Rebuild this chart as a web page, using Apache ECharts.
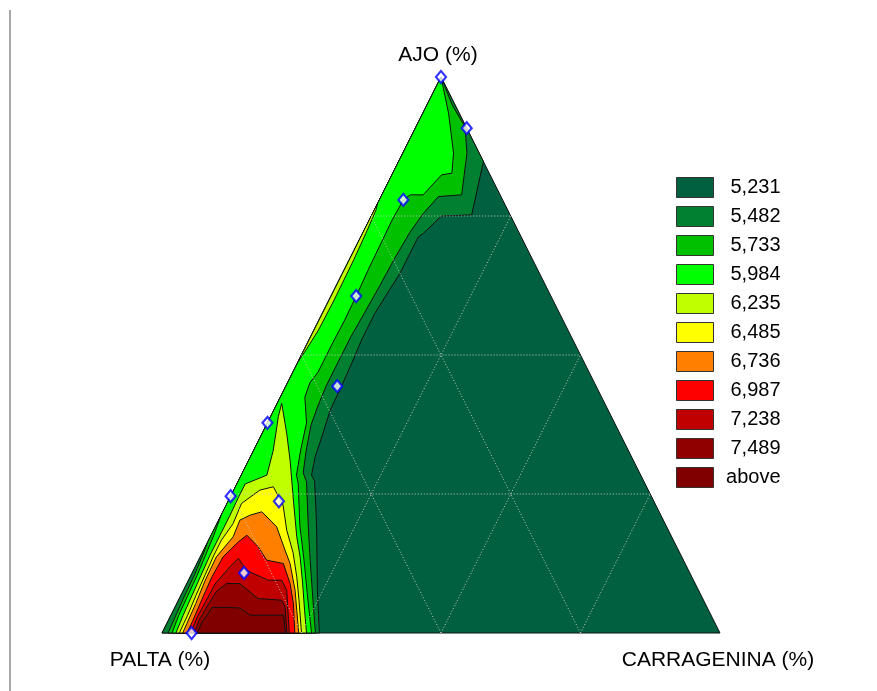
<!DOCTYPE html>
<html><head><meta charset="utf-8">
<script src="https://cdn.jsdelivr.net/npm/echarts@6/dist/echarts.min.js"></script>
<style>html,body{margin:0;padding:0;background:#fff}#chart{width:877px;height:691px}</style>
</head><body><div id="chart"></div>
<script>
// Ternary composition points are [CARRAGENINA %, AJO %]; PALTA % = 100 - both.
const levelLabels = ['5,231','5,482','5,733','5,984','6,235','6,485','6,736','6,987','7,238','7,489','above'];
const levelColors = ['#006040','#008030','#00c000','#00ff00','#c0ff00','#ffff00','#ff8000','#ff0000','#c00000','#900000','#800000'];

const band0 = [[[0,0],[0,100],[100,0]]];
const band1 = [[[0,0],[0,100],[15.2,84.8],[17.9,75.2],[12.6,75.0],[10.9,71.9],[10.3,71.2],[10.3,64.7],[9.4,57.6],[9.4,52.7],[9.7,49.1],[10.0,43.7],[10.1,40.1],[11.0,35.3],[11.6,31.7],[12.6,28.4],[13.7,27.3],[18.0,19.4],[24.0,7.7],[28.2,0]]];
const band2 = [[[0,16.5],[0,100],[4.5,95.0],[8.8,91.0],[11.5,86.3],[14.3,78.8],[10.3,78.5],[9.1,75.5],[8.4,72.1],[8.0,67.4],[7.8,62.6],[7.5,57.7],[7.2,53.1],[7.2,49.5],[7.2,44.4],[7.5,41.0],[8.0,37.4],[9.4,32.9],[10.9,28.8],[12.3,27.2],[16.5,19.4],[20.0,13.1],[24.1,5.9],[27.5,0],[1.1,0],[0.9,3.2],[0.7,6.8],[0.6,10.4],[0.3,14.0]]];
const band3 = [[[0,21.2],[0,100],[4.6,93.5],[9.1,86.3],[10.6,82.7],[8.9,82.4],[7.4,78.8],[5.1,78.8],[4.3,77.9],[4.1,74.3],[4.2,69.8],[4.3,65.3],[4.5,60.8],[4.6,56.3],[4.5,52.3],[4.5,49.5],[4.5,46.9],[4.0,45.0],[4.4,42.4],[7.0,37.8],[8.4,32.9],[9.9,28.4],[10.9,27.0],[15.0,19.4],[18.9,13.1],[23.2,5.9],[26.8,0],[1.8,0],[1.4,3.2],[1.25,6.8],[1.1,10.4],[0.8,14.0],[0.5,17.6]]];
const band4 = [
  [[0,48.9],[0,77.3],[0.3,76.1],[0.55,72.5],[0.8,67.1],[0.9,59.9],[0.8,54.5],[0.35,50.9]],
  [[0.8,41.3],[4.4,35.9],[7.4,31.1],[11.6,23.9],[15.5,17.3],[17.9,13.7],[20.7,9.0],[23.5,4.1],[25.9,0],[2.5,0],[2.2,3.2],[2.0,6.8],[1.8,10.4],[1.6,14.0],[1.6,17.6],[1.6,21.2],[1.5,24.6],[1.5,26.8],[4.6,28.4],[3.5,32.9],[1.4,38.9]]
];
const band5 = [[[6.8,26.3],[10.2,23.0],[13.1,18.5],[16.3,14.4],[19.1,10.1],[21.6,5.9],[25.0,0],[3.1,0],[3.0,3.2],[2.7,6.8],[2.5,10.4],[2.3,14.0],[2.3,16.7],[2.9,19.7],[2.6,23.3],[4.7,25.7]]];
const band6 = [[[5.2,21.2],[7.0,21.8],[11.0,19.1],[14.6,14.9],[16.7,12.5],[20.0,7.7],[22.1,4.1],[24.5,0],[3.7,0],[3.4,5.3],[3.0,9.5],[2.9,13.7],[4.1,17.3],[3.8,20.3]]];
const band7 = [[[5.5,16.4],[6.4,17.6],[9.5,15.5],[12.2,13.1],[15.5,12.5],[18.5,8.9],[20.9,5.3],[23.8,0],[4.5,0],[4.4,2.3],[4.1,6.5],[3.9,10.1],[4.1,13.7]]];
const band8 = [[[7.0,13.4],[9.5,11.3],[11.0,10.7],[14.3,9.5],[16.7,9.5],[18.5,7.7],[22.8,0],[5.2,0],[4.9,2.7],[5.0,5.8],[5.1,8.8],[6.2,11.9]]];
const band9 = [[[7.1,8.9],[9.5,8.9],[14.1,6.2],[18.5,5.9],[19.7,4.7],[22.4,0],[5.8,0],[5.5,2.3],[5.7,5.0],[6.0,7.4]]];
const band10 = [[[6.7,4.6],[9.4,4.6],[11.7,4.5],[14.2,3.2],[20.2,3.2],[22.1,0],[6.3,0],[6.2,2.0],[6.5,3.4]]];
const designPoints = [[0,100],[9.2,90.8],[4.3,77.9],[4.5,60.6],[9.2,44.4],[0,37.8],[0,24.6],[9.1,23.7],[9.3,10.8],[5.3,0]];
const gridLevels = [25,50,75];
const axisTitles = ['AJO (%)','PALTA (%)','CARRAGENINA (%)'];

const bands = [band0,band1,band2,band3,band4,band5,band6,band7,band8,band9,band10];
function toXY(p){ return [p[0] + p[1]/2, p[1]]; }

const FONT = '"Liberation Sans", Arial, sans-serif';
const chart = echarts.init(document.getElementById('chart'), null, {renderer:'canvas'});

const series = bands.map((polys, i) => ({
  type:'custom', name: levelLabels[i], coordinateSystem:'cartesian2d', silent:true,
  itemStyle:{color: levelColors[i]}, z: 2,
  data: polys.map((p, j) => [j, 0]),
  renderItem: (params, api) => {
    const poly = polys[params.dataIndex];
    return {type:'polygon', shape:{points: poly.map(p => api.coord(toXY(p)))},
            style:{fill: levelColors[i], stroke:'#111', lineWidth:1}};
  }
}));

series.push({
  type:'custom', coordinateSystem:'cartesian2d', silent:true, z:3,
  data: gridLevels.map(v => [v, 0]),
  renderItem: (params, api) => {
    const k = gridLevels[params.dataIndex];
    const segs = [[[0,k],[100-k,k]], [[k,0],[k,100-k]], [[100-k,0],[0,100-k]]];
    return {type:'group', children: segs.map(s => {
      const a = api.coord(toXY(s[0])), b = api.coord(toXY(s[1]));
      return {type:'line', shape:{x1:a[0], y1:a[1], x2:b[0], y2:b[1]},
              style:{stroke:'#c8c8c8', lineDash:[1,2], lineWidth:1}};
    })};
  }
});

series.push({
  type:'scatter', silent:true, z:5,
  data: designPoints.map(toXY),
  symbol:'diamond', symbolSize:[10,12],
  itemStyle:{color:'#ffffff', borderColor:'#0000ff', borderWidth:2.2}
});

chart.setOption({
  animation:false,
  backgroundColor:'#ffffff',
  grid:{left:162, top:77, width:558, height:556},
  xAxis:{type:'value', min:0, max:100, show:false},
  yAxis:{type:'value', min:0, max:100, show:false},
  legend:{
    data: levelLabels, orient:'vertical', left:676, top:177, padding:0,
    itemWidth:37, itemHeight:20, itemGap:8, icon:'rect', selectedMode:false,
    itemStyle:{borderColor:'#333', borderWidth:1},
    formatter: n => '{r|' + n + '}',
    textStyle:{color:'#000', fontFamily:FONT, fontSize:20,
      rich:{r:{width:62, align:'right', fontSize:20, fontFamily:FONT, color:'#000'}}}
  },
  graphic:[
    {type:'rect', left:9, top:10, shape:{width:2, height:681}, style:{fill:'#a8a8a8'}},
    {type:'text', x:438, y:55, style:{text:axisTitles[0], font:'21px '+FONT, fill:'#000', textAlign:'center', textVerticalAlign:'middle'}},
    {type:'text', x:160, y:660, style:{text:axisTitles[1], font:'21px '+FONT, fill:'#000', textAlign:'center', textVerticalAlign:'middle'}},
    {type:'text', x:718, y:660, style:{text:axisTitles[2], font:'21px '+FONT, fill:'#000', textAlign:'center', textVerticalAlign:'middle'}}
  ],
  series: series
});
</script></body></html>
